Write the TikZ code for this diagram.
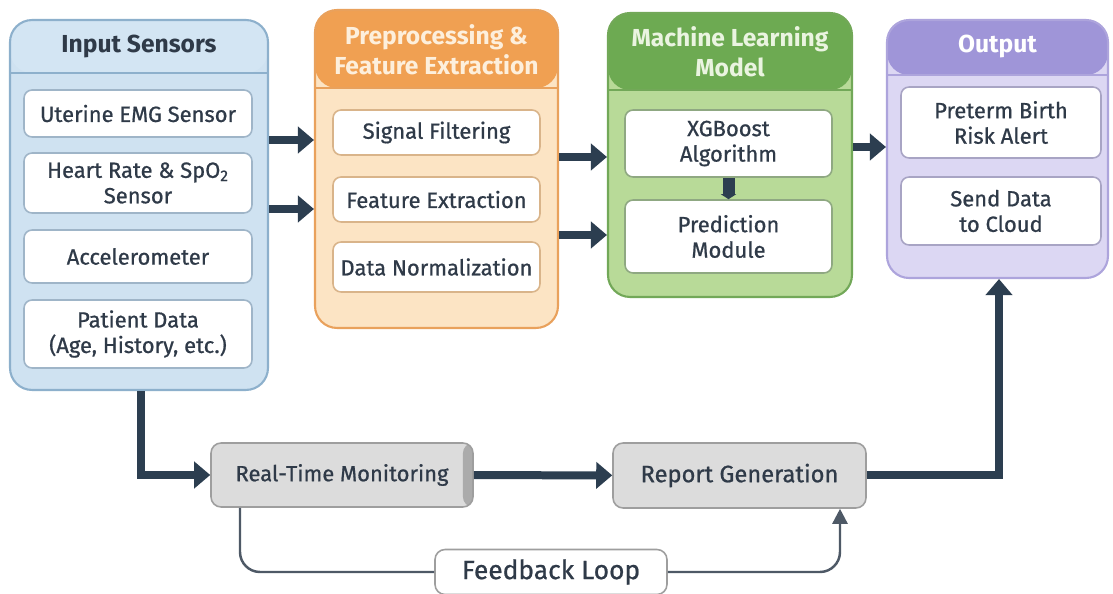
\documentclass[tikz,border=0pt]{standalone}
\usepackage{fontspec}
\setmainfont{Fira Sans}[UprightFeatures={FakeBold=0.8}]
\usetikzlibrary{arrows.meta}

\definecolor{navy}{HTML}{2C3E50}
\definecolor{txt}{HTML}{2F3A48}
\definecolor{bluebody}{HTML}{CFE2F1}
\definecolor{bluehead}{HTML}{D3E5F3}
\definecolor{blueedge}{HTML}{8DB0CC}
\definecolor{blueinner}{HTML}{9FB5C8}
\definecolor{orangebody}{HTML}{FCE4C4}
\definecolor{orangehead}{HTML}{F0A052}
\definecolor{orangeedge}{HTML}{E9A15C}
\definecolor{orangeinner}{HTML}{D9B48A}
\definecolor{greenbody}{HTML}{B8DA98}
\definecolor{greenhead}{HTML}{6DAA52}
\definecolor{greenedge}{HTML}{72A858}
\definecolor{greeninner}{HTML}{8FA882}
\definecolor{purplebody}{HTML}{DCD7F3}
\definecolor{purplehead}{HTML}{9F95D8}
\definecolor{purpleedge}{HTML}{ADA4DC}
\definecolor{purpleinner}{HTML}{A8A4C4}
\definecolor{greybox}{HTML}{DCDCDC}
\definecolor{greyedge}{HTML}{9E9E9E}
\definecolor{greyshade}{HTML}{ABABAB}
\definecolor{fbline}{HTML}{4E5966}

\begin{document}
\begin{tikzpicture}[x=0.02cm, y=-0.02cm,
  panel/.style n args={4}{draw=#3, line width=1.2pt, fill=#1, rounded corners=0.44cm,
    path picture={\fill[#2] (path picture bounding box.north west) rectangle
      ([yshift=-#4]path picture bounding box.north east);
      \draw[#3, line width=1pt] ([yshift=-#4]path picture bounding box.north west) --
      ([yshift=-#4]path picture bounding box.north east);}},
  title/.style={text=#1, font=\fontsize{14}{17}\selectfont\bfseries, align=center},
  inner/.style={draw=#1, fill=white, line width=0.9pt, rounded corners=0.16cm, inner sep=1pt,
    text=txt, font=\fontsize{12.5}{14.5}\selectfont, align=center},
  lowbox/.style={draw=greyedge, fill=greybox, line width=0.9pt, rounded corners=0.2cm,
    text=txt, font=\fontsize{12.5}{15}\selectfont},
  bigarrow/.style={draw=navy, line width=0.16cm, -{Triangle[width=0.52cm,length=0.32cm]}},
  loopline/.style={draw=fbline, line width=1.4pt, rounded corners=0.4cm}]

\path[use as bounding box, fill=white] (0,0) rectangle (1113,594);

% panels
\node [panel={bluebody}{bluehead}{blueedge}{1.06cm}, minimum width=5.16cm, minimum height=7.4cm]
  (inp) at (139,205) {};
\node [panel={orangebody}{orangehead}{orangeedge}{1.56cm}, minimum width=4.86cm, minimum height=6.36cm]
  (prep) at (436.5,169) {};
\node [panel={greenbody}{greenhead}{greenedge}{1.54cm}, minimum width=4.88cm, minimum height=5.68cm]
  (ml) at (730,155) {};
\node [panel={purplebody}{purplehead}{purpleedge}{1.1cm}, minimum width=4.42cm, minimum height=5.16cm]
  (out) at (997.5,149) {};

\node [title=txt] at (139,47) {Input Sensors};
\node [title={orangebody!60!white}] at (436.5,50) {Preprocessing \&\\Feature Extraction};
\node [title={greenbody!30!white}] at (730,52) {Machine Learning\\Model};
\node [title=white] at (997.5,47) {Output};

% input sensors
\node [inner=blueinner, minimum width=4.56cm, minimum height=0.94cm] (emg) at (138,113.5) {Uterine EMG Sensor};
\node [inner=blueinner, minimum width=4.56cm, minimum height=1.2cm] (hr) at (138,183) {Heart Rate \& SpO\textsubscript{2}\\Sensor};
\node [inner=blueinner, minimum width=4.56cm, minimum height=1.06cm] (acc) at (138,256.5) {Accelerometer};
\node [inner=blueinner, minimum width=4.56cm, minimum height=1.36cm] (pat) at (138,334) {Patient Data\\(Age, History, etc.)};

% preprocessing
\node [inner=orangeinner, minimum width=4.14cm, minimum height=0.9cm] (filt) at (436.5,132.5) {Signal Filtering};
\node [inner=orangeinner, minimum width=4.14cm, minimum height=0.9cm] (feat) at (436.5,199.5) {Feature Extraction};
\node [inner=orangeinner, minimum width=4.14cm, minimum height=1.0cm] (norm) at (436.5,267) {Data Normalization};

% model
\node [inner=greeninner, minimum width=4.14cm, minimum height=1.34cm] (xgb) at (728.5,143.5) {XGBoost\\Algorithm};
\node [inner=greeninner, minimum width=4.14cm, minimum height=1.46cm] (pred) at (728.5,236.5) {Prediction\\Module};

% output
\node [inner=purpleinner, minimum width=4.0cm, minimum height=1.42cm] (alert) at (1001,122.5) {Preterm Birth\\Risk Alert};
\node [inner=purpleinner, minimum width=4.0cm, minimum height=1.36cm] (cloud) at (1001,211) {Send Data\\to Cloud};

% bottom row
\node [lowbox, minimum width=5.24cm, minimum height=1.28cm,
  path picture={\fill[greyshade] ([xshift=-0.2cm]path picture bounding box.north east)
    rectangle (path picture bounding box.south east);}] (rt) at (342,475) {Real-Time Monitoring\hspace{0.15cm}};
\node [lowbox, minimum width=5.06cm, minimum height=1.3cm, font=\fontsize{13.5}{16}\selectfont]
  (rep) at (739.5,475.5) {Report Generation};
\node [lowbox, fill=white, minimum width=4.64cm, minimum height=0.9cm,
  font=\fontsize{15}{17}\selectfont] (fb) at (551,572) {Feedback Loop};

% arrows
\draw [bigarrow] (inp.east |- 0,140) -- (prep.west |- 0,140);
\draw [bigarrow] (inp.east |- 0,209) -- (prep.west |- 0,209);
\draw [bigarrow] (prep.east |- 0,157) -- (ml.west |- 0,157);
\draw [bigarrow] (prep.east |- 0,235) -- (ml.west |- 0,235);
\draw [bigarrow] (ml.east |- 0,147) -- (out.west |- 0,147);
\draw [draw=navy, line width=0.24cm, -{Triangle[width=0.3cm,length=0.1cm]}] (xgb) -- (pred);

\draw [bigarrow] (inp.south -| 141,0) |- (rt.west);
\draw [bigarrow] (rt) -- (rep);
\draw [bigarrow] (rep.east) -| (out.south -| 999,0);

\draw [loopline] (rt.south -| 240,0) |- (fb.west);
\draw [loopline, -{Triangle[width=0.3cm,length=0.3cm]}] (fb.east) -| (rep.south -| 840,0);

\end{tikzpicture}
\end{document}
